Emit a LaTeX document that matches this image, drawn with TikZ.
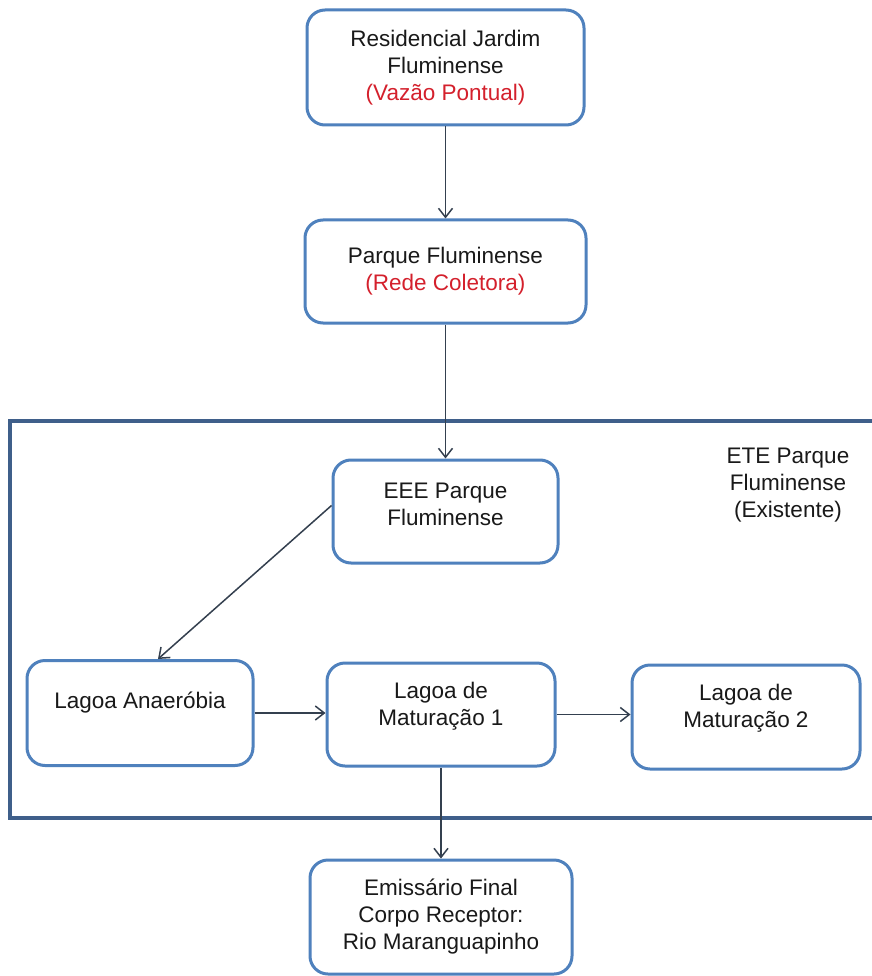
\documentclass[tikz,border=0pt]{standalone}
\usepackage{fontspec}
\setmainfont{Liberation Sans}
\usetikzlibrary{arrows.meta}
\definecolor{boxblue}{HTML}{4F81BD}
\definecolor{frameblue}{HTML}{3F5F8A}
\definecolor{linecol}{HTML}{34404F}
\definecolor{redtxt}{HTML}{D4202C}
\begin{document}
\begin{tikzpicture}[x=1pt,y=-1pt,
  every node/.style={font=\fontsize{22.5}{27}\selectfont, text=black!90},
  box/.style={draw=boxblue, line width=3pt, rounded corners=18pt, fill=white, inner sep=0pt},
  lbl/.style={align=center, inner sep=0pt},
  conn/.style={draw=linecol, line width=1.5pt, -{Straight Barb[length=9pt,width=14pt,line width=1.5pt]}}]
\useasboundingbox (0,0) rectangle (871,976);
\fill[white] (0,0) rectangle (871,976);
% frame
\draw[frameblue, line width=3.5pt] (10,421) rectangle (885,818);
\node[lbl] (ete) at (788,485) {ETE Parque\\Fluminense\\(Existente)};
% boxes
\node[box, minimum width=277pt, minimum height=115pt, lbl] (res) at (445.5,67.5)
  {Residencial Jardim\\Fluminense\\\textcolor{redtxt}{(Vazão Pontual)}};
\node[box, minimum width=281pt, minimum height=103pt, lbl] (pf) at (445.5,271.5)
  {Parque Fluminense\\\textcolor{redtxt}{(Rede Coletora)}};
\node[box, minimum width=225pt, minimum height=103pt] (eee) at (445.5,511.5) {};
\node[lbl] (eeet) at (445.5,504) {EEE Parque\\Fluminense};
\node[box, minimum width=226pt, minimum height=105pt] (anaer) at (140,713) {};
\node[lbl] (anaert) at (140,703) {Lagoa Anaeróbia};
\node[box, minimum width=228pt, minimum height=103pt] (mat1) at (441,714.5) {};
\node[lbl] (mat1t) at (441,706.5) {Lagoa de\\Maturação 1};
\node[box, minimum width=228pt, minimum height=104pt] (mat2) at (746,717) {};
\node[lbl] (mat2t) at (746,708.5) {Lagoa de\\Maturação 2};
\node[box, minimum width=262pt, minimum height=114pt, lbl] (emi) at (441,917)
  {Emissário Final\\Corpo Receptor:\\Rio Maranguapinho};
% connectors
\draw[conn] (res) -- (pf);
\draw[conn] (pf) -- (eee);
\draw[conn] ([yshift=6pt]eee.west) -- ([xshift=18pt]anaer.north);
\draw[conn] (anaer.east) -- (anaer.east -| mat1.west);
\draw[conn] (mat1.east) -- (mat1.east -| mat2.west);
\draw[conn] (mat1) -- (emi);
\end{tikzpicture}
\end{document}
